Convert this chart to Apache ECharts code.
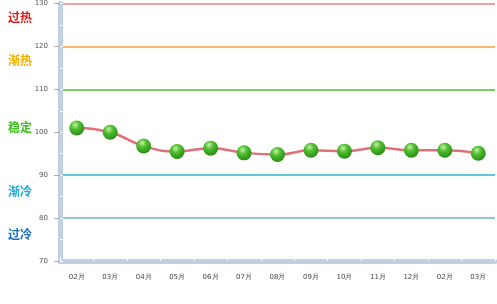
<!DOCTYPE html>
<html><head><meta charset="utf-8">
<script src="https://cdn.jsdelivr.net/npm/echarts@6/dist/echarts.min.js"></script>
<style>html,body{margin:0;padding:0;background:#fff}#c{width:497px;height:304px}</style>
</head><body><div id="c"></div>
<script>
var categories = ['02月','03月','04月','05月','06月','07月','08月','09月','10月','11月','12月','02月','03月'];
var values = [101, 100, 96.8, 95.5, 96.3, 95.2, 94.8, 95.8, 95.6, 96.4, 95.8, 95.8, 95.1];
var yTicks = [70, 80, 90, 100, 110, 120, 130];
var zoneNames = ['过热','渐热','稳定','渐冷','过冷'];
var zoneValues = [126.5, 116.5, 101, 86, 76];
var zoneColors = ['#e02020','#f0b000','#40c020','#20a8d8','#2070b8'];

var chart = echarts.init(document.getElementById('c'), null, {renderer:'canvas'});
var option = {
  animation:false,
  grid:{left:60, right:2, top:1, bottom:43},
  xAxis:[{
    type:'category', data:categories, boundaryGap:true,
    axisLine:{show:true, lineStyle:{color:'#c0d0e4', width:5}},
    axisTick:{show:true, inside:true, length:4, lineStyle:{color:'#ffffff', width:1}},
    axisLabel:{color:'#444', fontSize:7, margin:13, fontFamily:'DejaVu Sans'},
    splitLine:{show:false}
  }],
  yAxis:[{
    type:'value', min:70, max:130, interval:10,
    axisLine:{show:true, lineStyle:{color:'#c0d0e4', width:5}},
    axisTick:{show:true, length:6, lineStyle:{color:'#aaa', width:1}},
    axisLabel:{color:'#555', fontSize:7, margin:12, fontFamily:'DejaVu Sans'},
    splitLine:{show:true, lineStyle:{width:2, color:['rgba(0,0,0,0)','#98c4d4','#60c8d8','rgba(0,0,0,0)','#78d058','#f8b868','#f0a0a0']}}
  },{
    type:'value', min:70, max:130, interval:5, position:'left',
    axisLine:{show:false},
    axisTick:{show:true, inside:true, length:3, lineStyle:{color:'#ffffff', width:1}},
    axisLabel:{show:false}, splitLine:{show:false}
  }],
  series:[{
    type:'line', data:values, smooth:true, yAxisIndex:0,
    lineStyle:{color:'#e07078', width:2.5},
    symbol:'circle', symbolSize:15,
    itemStyle:{
      color:{type:'radial', x:0.4, y:0.3, r:0.8, colorStops:[
        {offset:0, color:'#c8f0a8'},{offset:0.35, color:'#50c030'},{offset:1, color:'#208010'}]},
      borderWidth:0
    }
  }]
};
chart.setOption(option);
var g = [];
for (var i=0;i<zoneNames.length;i++){
  var py = chart.convertToPixel({yAxisIndex:0}, zoneValues[i]);
  g.push({type:'text', left:8, top:py-7, style:{text:zoneNames[i], fill:zoneColors[i], font:'bold 12px "Noto Sans CJK SC"'}});
}
chart.setOption({graphic:g});
</script></body></html>
